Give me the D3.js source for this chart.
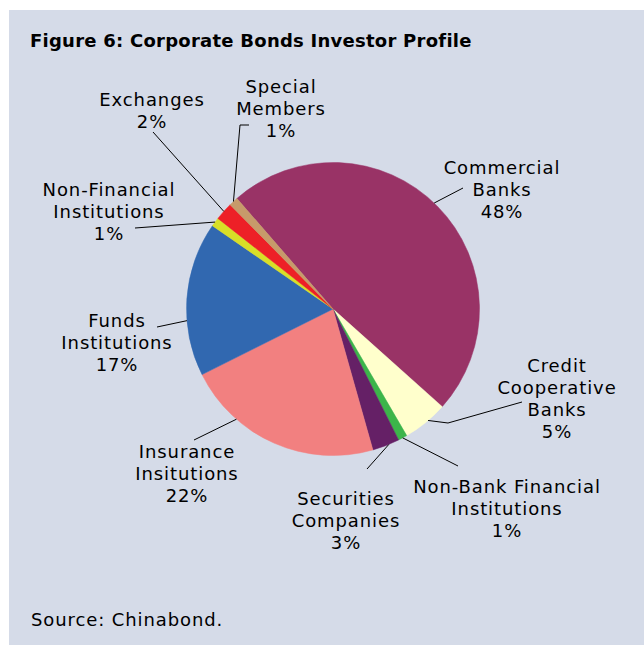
<!DOCTYPE html>
<html>
<head>
<meta charset="utf-8">
<script src="https://cdn.jsdelivr.net/npm/d3@7/dist/d3.min.js"></script>
<style>
  html, body { margin: 0; padding: 0; background: #ffffff; }
  svg { display: block; }
</style>
</head>
<body>
<script>
// Investor groups, in drawing order (clockwise from the Commercial Banks slice)
const categories = [
  "Commercial Banks",
  "Credit Cooperative Banks",
  "Non-Bank Financial Institutions",
  "Securities Companies",
  "Insurance Insitutions",
  "Funds Institutions",
  "Non-Financial Institutions",
  "Exchanges",
  "Special Members"
];
// Share of corporate bonds held, percent
const shares = [48, 5, 1, 3, 22, 17, 1, 2, 1];
// Label text lines for each slice
const labelLines = [
  ["Commercial", "Banks", "48%"],
  ["Credit", "Cooperative", "Banks", "5%"],
  ["Non-Bank Financial", "Institutions", "1%"],
  ["Securities", "Companies", "3%"],
  ["Insurance", "Insitutions", "22%"],
  ["Funds", "Institutions", "17%"],
  ["Non-Financial", "Institutions", "1%"],
  ["Exchanges", "2%"],
  ["Special", "Members", "1%"]
];
const sliceColors = [
  "#993366", "#ffffcc", "#3cb54a", "#652066", "#f28080",
  "#3168b0", "#d8df27", "#ed2027", "#c79a6a"
];

// Label placement: text centre x, first baseline y, where along the slice the
// leader starts (0..1), and the leader's bend/end points near the text
const labelLayout = [
  { x: 502, y: 174, t: 0.49, path: [[463, 188]] },
  { x: 557, y: 372, t: 0.43, path: [[448, 423], [522, 402]] },
  { x: 507, y: 493, t: 0.5,  path: [[458, 466]] },
  { x: 346, y: 505, t: 0.39, path: [[367, 469]] },
  { x: 187, y: 458, t: 0.72, path: [[194, 440]] },
  { x: 117, y: 327, t: 0.36, path: [[157, 327]] },
  { x: 109, y: 196, t: 0.5,  path: [[135, 228]] },
  { x: 152, y: 106, t: 0.5,  path: [[153, 132]] },
  { x: 281, y: 93,  t: 0.5,  path: [[240, 125], [249, 125]] }
];

const W = 644, H = 646;
const cx = 333, cy = 309, R = 146.5;
const startDeg = -41;
const lineStep = 22;

const svg = d3.select("body").append("svg")
  .attr("width", W).attr("height", H);

// panel background
svg.append("rect").attr("x", 0).attr("y", 0).attr("width", W).attr("height", H).attr("fill", "#ffffff");
svg.append("rect").attr("x", 9).attr("y", 10).attr("width", W - 9).attr("height", H - 11).attr("fill", "#d5dbe8");

// title
svg.append("text")
  .attr("x", 30).attr("y", 47)
  .attr("font-family", "'DejaVu Sans', Verdana, sans-serif")
  .attr("font-weight", "bold")
  .attr("font-size", 18)
  .attr("letter-spacing", 0.25)
  .attr("fill", "#000")
  .text("Figure 6: Corporate Bonds Investor Profile");

// pie
const data = categories.map((c, i) => ({ name: c, value: shares[i], i }));
const start = startDeg * Math.PI / 180;
const pie = d3.pie().value(d => d.value).sort(null)
  .startAngle(start).endAngle(start + 2 * Math.PI);
const arcs = pie(data);
const arc = d3.arc().innerRadius(0).outerRadius(R);

const g = svg.append("g").attr("transform", `translate(${cx},${cy})`);
g.selectAll("path.slice").data(arcs).enter().append("path")
  .attr("class", "slice")
  .attr("d", arc)
  .attr("fill", d => sliceColors[d.data.i])
  .attr("stroke", d => sliceColors[d.data.i])
  .attr("stroke-width", 0.5);

// leader lines
const onArc = (a) => [cx + R * Math.sin(a), cy - R * Math.cos(a)];
arcs.forEach((d, i) => {
  const L = labelLayout[i];
  const a = d.startAngle + L.t * (d.endAngle - d.startAngle);
  const pts = [onArc(a)].concat(L.path);
  svg.append("path")
    .attr("d", d3.line()(pts))
    .attr("fill", "none")
    .attr("stroke", "#000")
    .attr("stroke-width", 1);
});

// labels
arcs.forEach((d, i) => {
  const L = labelLayout[i];
  const t = svg.append("text")
    .attr("font-family", "'DejaVu Sans', Verdana, sans-serif")
    .attr("font-size", 18)
    .attr("letter-spacing", 0.9)
    .attr("fill", "#000")
    .attr("text-anchor", "middle");
  labelLines[i].forEach((s, k) => {
    t.append("tspan").attr("x", L.x).attr("y", L.y + k * lineStep).text(s);
  });
});

// source note
svg.append("text")
  .attr("x", 31).attr("y", 626)
  .attr("font-family", "'DejaVu Sans', Verdana, sans-serif")
  .attr("font-size", 18)
  .attr("letter-spacing", 0.9)
  .attr("fill", "#000")
  .text("Source: Chinabond.");
</script>
</body>
</html>
